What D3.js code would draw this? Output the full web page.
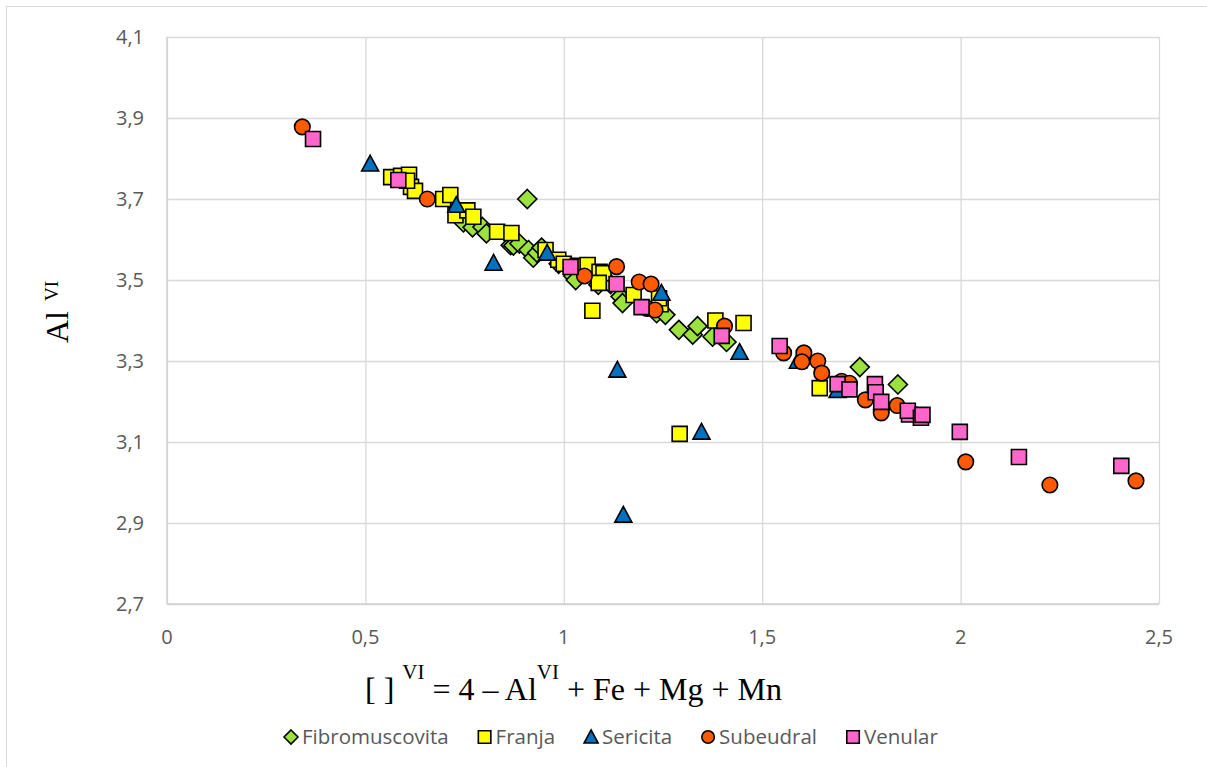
<!DOCTYPE html>
<html>
<head>
<meta charset="utf-8">
<script src="https://cdn.jsdelivr.net/npm/d3@7"></script>
<style>
  body { margin: 0; background: #fff; }
  svg { display: block; }
</style>
</head>
<body>
<div id="chart"></div>
<script>
// Series values (x = [ ]VI, y = AlVI)
const fibroX = [0.747, 0.77, 0.795, 0.805, 0.866, 0.873, 0.888, 0.911, 0.923, 0.933, 0.944, 0.987, 1.024, 1.03, 1.087, 1.097, 1.118, 1.143, 1.148, 1.234, 1.256, 1.29, 1.325, 1.337, 1.375, 1.41, 0.908, 1.746, 1.842];
const fibroY = [3.642, 3.63, 3.631, 3.615, 3.586, 3.585, 3.59, 3.574, 3.555, 3.567, 3.58, 3.54, 3.51, 3.50, 3.488, 3.505, 3.49, 3.459, 3.443, 3.418, 3.414, 3.377, 3.365, 3.386, 3.36, 3.347, 3.70, 3.285, 3.242];

const franjaX = [0.565, 0.59, 0.61, 0.615, 0.625, 0.605, 0.696, 0.714, 0.727, 0.757, 0.772, 0.832, 0.868, 0.954, 0.986, 1.00, 1.035, 1.06, 1.09, 1.1, 1.088, 1.072, 1.176, 1.244, 1.24, 1.382, 1.453, 1.292, 1.645];
const franjaY = [3.754, 3.757, 3.76, 3.73, 3.72, 3.745, 3.70, 3.71, 3.66, 3.672, 3.656, 3.619, 3.616, 3.574, 3.55, 3.54, 3.535, 3.537, 3.52, 3.517, 3.493, 3.424, 3.463, 3.44, 3.455, 3.40, 3.394, 3.12, 3.233];

const sericitaX = [0.512, 0.729, 0.823, 0.958, 1.246, 1.443, 1.135, 1.347, 1.150, 1.59, 1.69];
const sericitaY = [3.787, 3.685, 3.542, 3.567, 3.468, 3.322, 3.278, 3.125, 2.92, 3.30, 3.228];

const subeudralX = [0.341, 0.656, 1.052, 1.133, 1.19, 1.22, 1.21, 1.23, 1.405, 1.554, 1.605, 1.60, 1.64, 1.65, 1.70, 1.72, 1.76, 1.80, 1.80, 1.84, 2.013, 2.225, 2.442];
const subeudralY = [3.878, 3.70, 3.51, 3.533, 3.495, 3.49, 3.43, 3.426, 3.386, 3.32, 3.32, 3.298, 3.30, 3.27, 3.25, 3.245, 3.204, 3.18, 3.172, 3.19, 3.051, 2.994, 3.004];

const venularX = [0.368, 0.583, 1.017, 1.133, 1.196, 1.398, 1.544, 1.69, 1.72, 1.784, 1.786, 1.80, 1.87, 1.867, 1.90, 1.904, 1.998, 2.147, 2.405];
const venularY = [3.848, 3.747, 3.532, 3.49, 3.433, 3.362, 3.337, 3.243, 3.23, 3.243, 3.223, 3.199, 3.168, 3.177, 3.16, 3.167, 3.125, 3.063, 3.041];

const xTicks = [0, 0.5, 1, 1.5, 2, 2.5];
const yTicks = [2.7, 2.9, 3.1, 3.3, 3.5, 3.7, 3.9, 4.1];

const seriesNames = ['Fibromuscovita', 'Franja', 'Sericita', 'Subeudral', 'Venular'];
const seriesShapes = ['diamond', 'square', 'triangle', 'circle', 'square'];
const seriesColors = ['#9be33c', '#ffff00', '#0070c0', '#ff5a00', '#ff66cc'];

const width = 1207, height = 767;
const plot = { left: 167, top: 37, right: 1159, bottom: 604 };

const svg = d3.select('#chart').append('svg')
    .attr('width', width)
    .attr('height', height);

// outer chart border (only top/left edges fall inside the picture)
svg.append('rect')
    .attr('x', 6.5).attr('y', 6.5)
    .attr('width', 1220).attr('height', 780)
    .attr('fill', '#fff')
    .attr('stroke', '#d9d9d9');

const x = d3.scaleLinear().domain([0, 2.5]).range([plot.left, plot.right]);
const y = d3.scaleLinear().domain([2.7, 4.1]).range([plot.bottom, plot.top]);

const fmt = d => d3.format('.1~f')(d).replace('.', ',');

// gridlines
svg.append('g')
    .attr('transform', `translate(0,${plot.bottom})`)
    .call(d3.axisBottom(x).tickValues(xTicks).tickSize(-(plot.bottom - plot.top)).tickFormat(''))
    .call(g => g.select('.domain').remove())
    .call(g => g.selectAll('line').attr('stroke', '#d9d9d9').attr('stroke-width', 1.3));

svg.append('g')
    .attr('transform', `translate(${plot.left},0)`)
    .call(d3.axisLeft(y).tickValues(yTicks).tickSize(-(plot.right - plot.left)).tickFormat(''))
    .call(g => g.select('.domain').remove())
    .call(g => g.selectAll('line').attr('stroke', '#d9d9d9').attr('stroke-width', 1.3));

// axis lines
svg.append('line')
    .attr('x1', plot.left).attr('x2', plot.left)
    .attr('y1', plot.top).attr('y2', plot.bottom)
    .attr('stroke', '#cfcfcf').attr('stroke-width', 1.3);
svg.append('line')
    .attr('x1', plot.left).attr('x2', plot.right)
    .attr('y1', plot.bottom).attr('y2', plot.bottom)
    .attr('stroke', '#cfcfcf').attr('stroke-width', 1.3);

// tick labels
const tickFont = '"Open Sans", sans-serif';
svg.append('g').selectAll('text')
    .data(yTicks)
    .enter().append('text')
    .attr('x', 144)
    .attr('y', d => y(d))
    .attr('dy', '0.35em')
    .attr('text-anchor', 'end')
    .attr('font-family', tickFont)
    .attr('font-size', 20)
    .attr('fill', '#595959')
    .text(fmt);

svg.append('g').selectAll('text')
    .data(xTicks)
    .enter().append('text')
    .attr('x', d => x(d))
    .attr('y', 644)
    .attr('text-anchor', 'middle')
    .attr('font-family', tickFont)
    .attr('font-size', 20)
    .attr('fill', '#595959')
    .text(fmt);

// axis titles
const serif = '"Liberation Serif", "Times New Roman", serif';
const yTitle = svg.append('text')
    .attr('transform', 'translate(68,343) rotate(-90)')
    .attr('font-family', serif)
    .attr('font-size', 32)
    .attr('fill', '#000');
yTitle.append('tspan').text('Al');
yTitle.append('tspan').attr('font-size', 19).attr('dx', 10).attr('dy', -10).text('VI');

const xTitle = svg.append('text')
    .attr('x', 365).attr('y', 700)
    .attr('font-family', serif)
    .attr('font-size', 32)
    .attr('fill', '#000');
xTitle.append('tspan').text('[ ]\u00a0');
xTitle.append('tspan').attr('font-size', 21).attr('dy', -21).text('VI');
xTitle.append('tspan').attr('dy', 21).text(' = 4 \u2013 Al');
xTitle.append('tspan').attr('font-size', 21).attr('dy', -21).text('VI');
xTitle.append('tspan').attr('dy', 21).text(' + Fe + Mg + Mn');

// marker paths
function markerPath(shape, s) {
    const h = s / 2;
    if (shape === 'square') return `M${-h},${-h}H${h}V${h}H${-h}Z`;
    if (shape === 'diamond') return `M0,${-h}L${h},0L0,${h}L${-h},0Z`;
    if (shape === 'triangle') return `M0,${-h}L${h},${h * 0.85}L${-h},${h * 0.85}Z`;
    return d3.arc()({ innerRadius: 0, outerRadius: h, startAngle: 0, endAngle: 2 * Math.PI });
}
const markerSize = { square: 15, diamond: 19, triangle: 17, circle: 15.5 };

const seriesX = [fibroX, franjaX, sericitaX, subeudralX, venularX];
const seriesY = [fibroY, franjaY, sericitaY, subeudralY, venularY];

seriesNames.forEach((name, i) => {
    const pts = seriesX[i].map((v, j) => [v, seriesY[i][j]]);
    const shape = seriesShapes[i];
    svg.append('g').attr('class', 'series')
        .selectAll('path')
        .data(pts)
        .enter().append('path')
        .attr('transform', d => `translate(${x(d[0])},${y(d[1])})`)
        .attr('d', markerPath(shape, markerSize[shape]))
        .attr('fill', seriesColors[i])
        .attr('stroke', '#000')
        .attr('stroke-width', 1.6);
});

// legend
const legend = svg.append('g');
let lx = 286;
const ly = 737;
seriesNames.forEach((name, i) => {
    const shape = seriesShapes[i];
    const s = shape === 'diamond' ? 14 : (shape === 'triangle' ? 14 : 12.5);
    legend.append('path')
        .attr('transform', `translate(${lx + 5},${ly})`)
        .attr('d', markerPath(shape, s))
        .attr('fill', seriesColors[i])
        .attr('stroke', '#000')
        .attr('stroke-width', 1.6);
    const t = legend.append('text')
        .attr('x', lx + 16)
        .attr('y', ly)
        .attr('dy', '0.35em')
        .attr('font-family', tickFont)
        .attr('font-size', 20.5)
        .attr('fill', '#595959')
        .text(name);
    lx += 16 + t.node().getComputedTextLength() + 31;
});
</script>
</body>
</html>
